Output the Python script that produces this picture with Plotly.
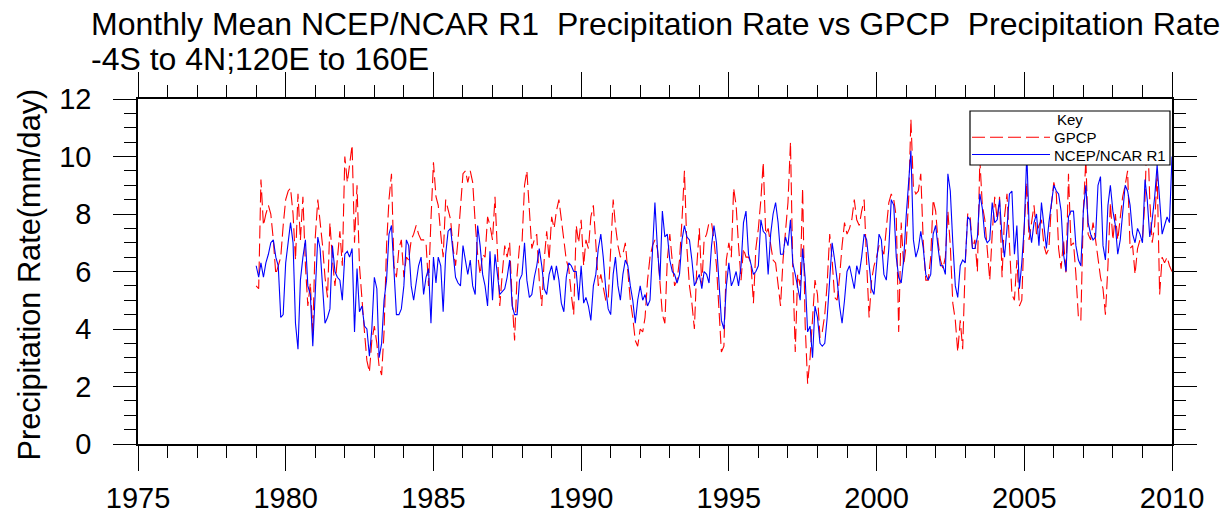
import plotly.graph_objects as go
import pandas as pd

# ---------------- data (mm/day), monthly from Jan 1979 ----------------
start_month = "1979-01-01"

ncep_r1 = [
    6.2, 5.8, 6.3, 5.8, 6.3, 6.6, 7.0, 7.1, 6.5, 6.2, 4.4, 4.5,   # 1979
    6.3, 7.0, 7.7, 7.0, 4.2, 3.3, 5.7, 6.5, 7.1, 5.5, 5.2, 3.4,   # 1980
    5.5, 7.2, 6.8, 5.5, 4.2, 4.4, 4.7, 6.9, 6.0, 5.8, 5.7, 5.0,   # 1981
    6.6, 6.7, 6.5, 6.8, 3.9, 6.1, 4.6, 4.8, 4.1, 4.0, 3.05, 4.0,  # 1982
    5.8, 5.4, 3.0, 3.5, 5.0, 5.7, 7.3, 7.6, 5.9, 4.5, 4.5, 4.7,   # 1983
    5.5, 7.1, 6.9, 5.5, 5.0, 5.7, 6.2, 6.5, 5.2, 5.8, 6.1, 4.2,   # 1984
    6.5, 5.6, 6.5, 6.2, 4.6, 6.6, 7.4, 7.5, 6.6, 5.8, 5.6, 5.5,   # 1985
    6.9, 6.3, 5.9, 6.4, 5.5, 5.2, 7.6, 6.9, 5.9, 5.5, 4.8, 6.7,   # 1986
    5.0, 6.6, 5.9, 5.2, 5.3, 5.4, 5.8, 6.4, 4.8, 4.5, 4.5, 5.7,   # 1987
    5.9, 7.0, 5.7, 5.1, 5.2, 5.8, 6.2, 6.8, 6.2, 5.4, 5.2, 5.9,   # 1988
    6.2, 5.7, 6.2, 5.7, 4.9, 4.6, 5.8, 6.3, 6.2, 6.0, 6.0, 5.0,   # 1989
    6.2, 4.9, 5.1, 4.8, 4.3, 5.5, 5.9, 6.8, 7.3, 6.5, 5.4, 4.7,   # 1990
    4.5, 5.9, 6.5, 5.5, 5.0, 5.9, 6.4, 6.2, 5.5, 5.0, 4.2, 5.0,   # 1991
    5.5, 5.0, 5.2, 4.8, 5.0, 6.9, 8.4, 6.8, 5.7, 8.1, 7.2, 7.3,   # 1992
    6.4, 6.0, 5.9, 5.6, 5.9, 7.1, 7.6, 7.2, 7.1, 6.4, 5.5, 5.7,   # 1993
    5.9, 5.4, 6.0, 5.9, 5.6, 6.9, 7.6, 7.0, 5.7, 4.3, 4.0, 5.5,   # 1994
    6.3, 5.5, 5.7, 6.0, 5.5, 6.2, 7.7, 8.1, 6.6, 6.2, 5.9, 6.0,   # 1995
    6.2, 7.8, 7.4, 7.3, 5.9, 7.3, 8.0, 8.4, 7.7, 6.6, 6.6, 7.2,   # 1996
    6.9, 7.8, 6.3, 5.9, 5.4, 5.0, 6.8, 5.8, 3.9, 4.1, 3.0, 4.8,   # 1997
    4.4, 3.5, 3.4, 3.5, 4.4, 5.9, 7.0, 6.4, 5.7, 4.8, 4.2, 5.0,   # 1998
    6.0, 6.2, 5.8, 5.4, 6.2, 5.9, 6.5, 7.3, 7.1, 6.2, 5.4, 5.2,   # 1999
    6.2, 7.3, 7.1, 5.9, 5.7, 6.8, 8.5, 8.3, 6.5, 5.8, 5.6, 6.4,   # 2000
    7.9, 9.3, 10.2, 7.1, 6.5, 6.8, 7.4, 6.8, 5.9, 5.7, 5.9, 7.3,  # 2001
    7.6, 6.8, 6.2, 6.2, 5.9, 9.4, 8.8, 7.0, 5.5, 5.1, 6.2, 6.4,   # 2002
    6.3, 7.9, 7.8, 6.8, 6.8, 7.2, 8.7, 8.2, 7.2, 7.0, 7.1, 8.4,   # 2003
    7.7, 7.8, 8.5, 7.2, 6.5, 7.5, 8.7, 8.8, 6.6, 7.6, 5.4, 6.3,   # 2004
    7.6, 10.1, 7.6, 7.0, 7.7, 8.0, 6.9, 8.4, 7.6, 6.8, 7.7, 8.3,  # 2005
    9.0, 8.8, 8.7, 8.1, 6.6, 6.0, 7.9, 8.1, 8.1, 6.9, 6.4, 6.2,   # 2006
    8.1, 9.0, 7.7, 7.3, 7.1, 7.2, 9.0, 9.3, 6.9, 6.4, 8.3, 9.0,   # 2007
    8.1, 7.6, 6.6, 7.1, 8.1, 9.0, 8.8, 8.3, 7.3, 7.0, 7.5, 7.3,   # 2008
    7.0, 9.2, 8.5, 7.2, 7.8, 8.6, 9.7, 8.5, 7.3, 7.6, 7.9, 7.7,   # 2009
    10.0,                                                          # 2010
]

gpcp = [
    5.5, 5.4, 9.2, 7.6, 8.0, 8.3, 8.0, 7.1, 5.9, 6.2, 6.5, 7.6,   # 1979
    8.5, 8.8, 8.9, 8.0, 6.4, 8.7, 7.1, 8.6, 6.2, 4.8, 5.6, 3.8,   # 1980
    7.2, 8.5, 7.8, 6.9, 5.8, 5.1, 7.7, 6.4, 5.5, 6.6, 7.4, 6.2,   # 1981
    10.0, 9.1, 9.7, 10.4, 7.0, 9.0, 6.2, 5.2, 3.9, 2.9, 2.5, 3.6, # 1982
    4.1, 3.5, 2.7, 2.4, 3.9, 6.9, 8.5, 9.4, 6.2, 5.8, 6.8, 7.1,   # 1983
    5.8, 6.5, 6.4, 7.1, 7.3, 7.6, 7.3, 7.1, 7.1, 7.0, 5.5, 7.8,   # 1984
    9.8, 8.6, 8.3, 7.3, 6.5, 8.5, 8.1, 7.8, 6.8, 6.2, 7.1, 8.1,   # 1985
    9.4, 9.5, 9.1, 9.5, 9.1, 7.7, 6.6, 5.9, 6.6, 6.5, 7.9, 7.6,   # 1986
    7.1, 8.6, 7.0, 4.8, 5.9, 6.9, 6.5, 7.0, 5.0, 3.6, 5.9, 6.9,   # 1987
    7.0, 9.0, 9.5, 7.9, 6.8, 7.1, 7.3, 5.7, 4.8, 6.4, 7.4, 6.4,   # 1988
    7.9, 7.5, 8.1, 8.5, 7.9, 7.1, 6.4, 6.1, 5.2, 4.5, 7.6, 7.0,   # 1989
    7.8, 6.2, 7.1, 6.8, 7.9, 8.3, 7.0, 5.5, 5.9, 5.5, 5.0, 5.0,   # 1990
    6.8, 8.5, 7.6, 6.9, 6.5, 6.6, 7.0, 6.1, 5.0, 4.4, 3.6, 3.4,   # 1991
    4.0, 3.9, 4.4, 5.7, 6.5, 6.9, 7.1, 6.8, 5.7, 4.5, 4.2, 6.4,   # 1992
    7.3, 6.2, 5.5, 5.7, 6.4, 7.8, 9.5, 6.8, 5.5, 4.9, 4.0, 6.2,   # 1993
    7.5, 5.5, 7.1, 7.3, 7.7, 7.7, 7.1, 6.2, 4.8, 3.2, 3.4, 6.4,   # 1994
    7.0, 6.5, 8.9, 8.3, 6.9, 5.7, 6.8, 6.5, 6.5, 6.3, 4.9, 6.8,   # 1995
    7.5, 8.5, 9.8, 7.3, 7.5, 7.0, 6.4, 6.3, 5.5, 4.8, 6.4, 7.5,   # 1996
    8.4, 10.5, 6.2, 3.2, 5.9, 5.5, 8.9, 4.2, 2.1, 3.0, 4.5, 5.7,  # 1997
    5.2, 3.7, 3.9, 4.5, 5.6, 7.3, 6.4, 5.1, 5.0, 5.8, 6.9, 7.7,   # 1998
    7.3, 7.5, 7.8, 8.5, 7.8, 7.6, 8.1, 8.5, 6.3, 4.4, 5.7, 6.2,   # 1999
    6.5, 6.9, 6.8, 6.6, 7.5, 8.4, 8.7, 8.5, 7.9, 3.9, 7.7, 6.2,   # 2000
    6.9, 8.5, 11.3, 8.9, 8.7, 8.8, 9.4, 7.0, 5.7, 5.7, 6.5, 8.5,  # 2001
    8.1, 7.0, 6.4, 6.1, 6.5, 8.1, 6.9, 4.9, 4.3, 3.2, 4.3, 3.3,   # 2002
    6.2, 8.0, 8.0, 6.8, 7.1, 6.0, 9.9, 8.3, 7.8, 6.8, 5.7, 7.3,   # 2003
    8.6, 7.8, 8.6, 5.8, 7.9, 8.7, 7.0, 5.2, 5.0, 6.4, 4.8, 5.0,   # 2004
    7.6, 9.1, 7.1, 7.7, 8.3, 7.3, 7.6, 7.8, 6.9, 6.6, 6.8, 8.3,   # 2005
    9.1, 8.7, 6.8, 6.1, 7.1, 5.9, 9.4, 6.9, 7.0, 5.9, 4.4, 4.3,   # 2006
    8.1, 9.9, 7.3, 7.1, 7.7, 7.1, 6.5, 5.8, 5.4, 4.5, 6.2, 8.4,   # 2007
    7.1, 8.0, 7.1, 7.9, 8.6, 9.0, 9.5, 6.8, 6.9, 5.9, 6.8, 7.1,   # 2008
    7.1, 8.5, 11.2, 8.5, 7.0, 7.6, 9.5, 5.2, 6.5, 6.3, 6.5, 6.2,  # 2009
    6.0,                                                           # 2010
]

x_range = ["1975-01-01", "2010-01-01"]
y_range = [0, 12]
title_line1 = ("Monthly Mean NCEP/NCAR R1\u00a0\u00a0Precipitation Rate vs GPCP"
               "\u00a0\u00a0Precipitation Rate")
title_line2 = "-4S to 4N;120E to 160E"
y_title = "Precipitation Rate(mm/day)"
legend_title = "Key"
series_names = ["GPCP", "NCEP/NCAR R1"]

months = pd.date_range(start_month, periods=len(ncep_r1), freq="MS")

# ---------------- layout geometry (pixels) ----------------
W, H = 1229, 517
L, R, T, B = 138, 57, 99, 73
PW, PH = W - L - R, H - T - B


def px(xp):
    return (xp - L) / PW


def py(yp):
    return (H - B - yp) / PH


FONT = "Liberation Sans, Arial, Helvetica, sans-serif"

fig = go.Figure()
fig.add_trace(go.Scatter(x=months, y=gpcp, mode="lines", name=series_names[0],
                         line=dict(color="#ff0000", width=1.1, dash="13px,5px")))
fig.add_trace(go.Scatter(x=months, y=ncep_r1, mode="lines", name=series_names[1],
                         line=dict(color="#0000ff", width=1.1)))

fig.update_layout(
    width=W, height=H,
    margin=dict(l=L, r=R, t=T, b=B, autoexpand=False),
    paper_bgcolor="white", plot_bgcolor="white",
    showlegend=False,
    font=dict(family=FONT, color="black"),
)

fig.update_xaxes(
    type="date", range=x_range, showgrid=False, zeroline=False,
    showline=True, linecolor="black", linewidth=1.5, mirror="ticks",
    ticks="outside", ticklen=25, tickwidth=1.2, tickcolor="black",
    tick0="1975-01-01", dtick="M60", tickformat="%Y",
    tickfont=dict(size=29, family=FONT, color="black"),
    ticklabelstandoff=2,
    minor=dict(ticks="outside", ticklen=12, tickwidth=1, tickcolor="black",
               tick0="1975-01-01", dtick="M12", showgrid=False),
)
fig.update_yaxes(
    range=y_range, showgrid=False, zeroline=False,
    showline=True, linecolor="black", linewidth=1.5, mirror="ticks",
    ticks="outside", ticklen=23, tickwidth=1.2, tickcolor="black",
    tick0=0, dtick=2,
    tickfont=dict(size=29, family=FONT, color="black"),
    ticklabelstandoff=16,
    minor=dict(ticks="outside", ticklen=12, tickwidth=1, tickcolor="black",
               dtick=0.5, showgrid=False),
)

# y-axis title
fig.add_annotation(text=y_title, xref="paper", yref="paper", x=px(28.5), y=py(275),
                   xanchor="center", yanchor="middle", textangle=-90, showarrow=False,
                   font=dict(size=30.7, family=FONT, color="black"))

# title (two left-aligned lines)
fig.add_annotation(text=title_line1, xref="paper", yref="paper", x=px(89), y=py(24),
                   xanchor="left", yanchor="middle", showarrow=False,
                   font=dict(size=32, family=FONT, color="black"))
fig.add_annotation(text=title_line2, xref="paper", yref="paper", x=px(89), y=py(58.5),
                   xanchor="left", yanchor="middle", showarrow=False,
                   font=dict(size=32, family=FONT, color="black"))

# "Key" legend box drawn over the data
fig.add_shape(type="rect", xref="paper", yref="paper", x0=px(970), x1=px(1170),
              y0=py(165), y1=py(111), fillcolor="white",
              line=dict(color="black", width=1.2), layer="above")
fig.add_shape(type="line", xref="paper", yref="paper", x0=px(972), x1=px(1050),
              y0=py(137.3), y1=py(137.3), line=dict(color="#ff0000", width=1.1, dash="13px,5px"),
              layer="above")
fig.add_shape(type="line", xref="paper", yref="paper", x0=px(972), x1=px(1050),
              y0=py(154.5), y1=py(154.5), line=dict(color="#0000ff", width=1.1),
              layer="above")
fig.add_annotation(text=legend_title, xref="paper", yref="paper", x=px(1070), y=py(119),
                   xanchor="center", yanchor="middle", showarrow=False,
                   font=dict(size=15, family=FONT, color="black"))
for name, yy in zip(series_names, [137.5, 155.5]):
    fig.add_annotation(text=name, xref="paper", yref="paper", x=px(1052), y=py(yy),
                       xanchor="left", yanchor="middle", showarrow=False,
                       font=dict(size=15, family=FONT, color="black"))

fig.write_html("out.html", config={"displayModeBar": False},
               post_script="document.body.style.margin='0';document.body.style.overflow='hidden';")
